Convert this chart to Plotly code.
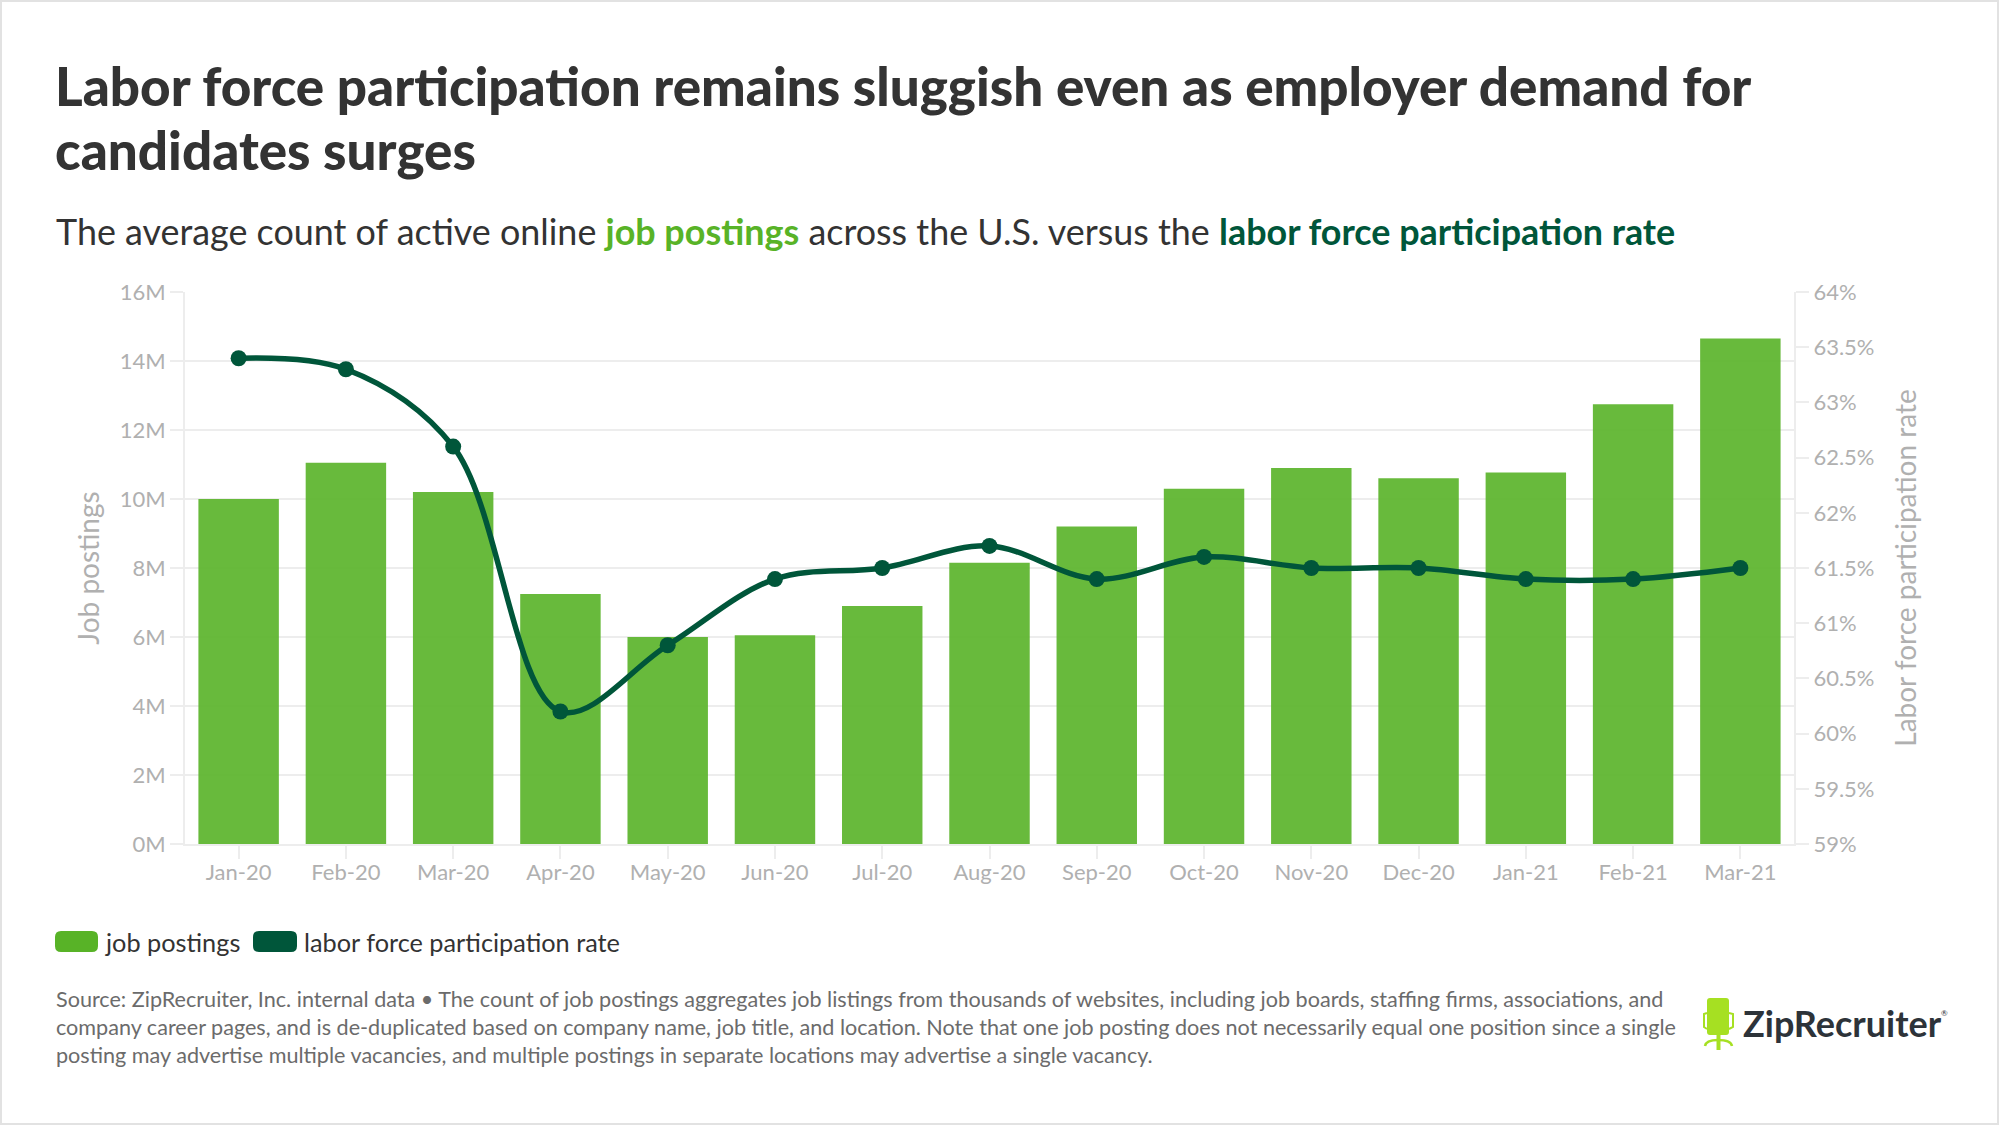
import plotly.graph_objects as go
from plotly.subplots import make_subplots

# Data
months = ['Jan-20', 'Feb-20', 'Mar-20', 'Apr-20', 'May-20', 'Jun-20', 'Jul-20', 'Aug-20',
          'Sep-20', 'Oct-20', 'Nov-20', 'Dec-20', 'Jan-21', 'Feb-21', 'Mar-21']
job_postings = [10.0, 11.05, 10.2, 7.25, 6.0, 6.05, 6.9, 8.15, 9.2, 10.3, 10.9, 10.6, 10.77, 12.75, 14.65]
participation = [63.4, 63.3, 62.6, 60.2, 60.8, 61.4, 61.5, 61.7, 61.4, 61.6, 61.5, 61.5, 61.4, 61.4, 61.5]

left_ticks = [0, 2, 4, 6, 8, 10, 12, 14, 16]
left_labels = ['0M', '2M', '4M', '6M', '8M', '10M', '12M', '14M', '16M']
right_ticks = [59, 59.5, 60, 60.5, 61, 61.5, 62, 62.5, 63, 63.5, 64]
right_labels = ['59%', '59.5%', '60%', '60.5%', '61%', '61.5%', '62%', '62.5%', '63%', '63.5%', '64%']

title_lines = ['Labor force participation remains sluggish even as employer demand for',
               'candidates surges']
source_lines = ['Source: ZipRecruiter, Inc. internal data • The count of job postings aggregates job listings from thousands of websites, including job boards, staffing firms, associations, and',
                'company career pages, and is de-duplicated based on company name, job title, and location. Note that one job posting does not necessarily equal one position since a single',
                'posting may advertise multiple vacancies, and multiple postings in separate locations may advertise a single vacancy.']

GREEN = '#58b327'
DARK = '#00563a'
GREY = '#b0b0b0'
GRID = '#ededed'
FONT = 'Lato'

W, H = 1999, 1125
L, R, T, B = 185, 1794, 292, 844


def px(x):
    return (x - L) / (R - L)


def py(y):
    return (B - y) / (B - T)


def text(x, y, s, size, color, anchor='left', weight=None):
    fig.add_annotation(xref='paper', yref='paper', x=px(x), y=py(y), text=s, showarrow=False,
                       xanchor=anchor, yanchor='middle', align='left', borderpad=0,
                       font=dict(family=FONT, size=size, color=color, weight=weight))


def rect(x0, y0, x1, y1, color, **kw):
    fig.add_shape(type='rect', xref='paper', yref='paper', x0=px(x0), x1=px(x1), y0=py(y0), y1=py(y1),
                  fillcolor=color, line=dict(width=0), **kw)


def pill(x0, y0, x1, y1, r, color):
    # rounded rectangle, in pixels of the page
    pts = (f'M{px(x0 + r)},{py(y0)} L{px(x1 - r)},{py(y0)} Q{px(x1)},{py(y0)} {px(x1)},{py(y0 + r)} '
           f'L{px(x1)},{py(y1 - r)} Q{px(x1)},{py(y1)} {px(x1 - r)},{py(y1)} '
           f'L{px(x0 + r)},{py(y1)} Q{px(x0)},{py(y1)} {px(x0)},{py(y1 - r)} '
           f'L{px(x0)},{py(y0 + r)} Q{px(x0)},{py(y0)} {px(x0 + r)},{py(y0)} Z')
    fig.add_shape(type='path', xref='paper', yref='paper', path=pts, fillcolor=color, line=dict(width=0))


def stroke(path, color, width):
    fig.add_shape(type='path', xref='paper', yref='paper', path=path, line=dict(color=color, width=width))


fig = make_subplots(specs=[[{'secondary_y': True}]])

fig.add_trace(go.Bar(x=months, y=job_postings, name='job postings',
                     marker=dict(color=GREEN, opacity=0.9, line=dict(width=0))), secondary_y=False)
fig.add_trace(go.Scatter(x=months, y=participation, name='labor force participation rate',
                         mode='lines+markers',
                         line=dict(color=DARK, width=5.5, shape='spline', smoothing=1.0),
                         marker=dict(color=DARK, size=16)), secondary_y=True)

fig.update_layout(width=W, height=H, margin=dict(l=L, r=W - R, t=T, b=H - B, autoexpand=False),
                  paper_bgcolor='white', plot_bgcolor='white', showlegend=False, bargap=0.25,
                  font=dict(family=FONT, color=GREY))
fig.update_xaxes(type='category', domain=[0, 1], range=[-0.5, 14.5], showgrid=False, showline=True,
                 linecolor=GRID, linewidth=2, ticks='outside', ticklen=13, tickwidth=2, tickcolor=GRID,
                 tickfont=dict(size=22, color=GREY), tickangle=0, ticklabelstandoff=-5)
fig.update_yaxes(range=[0, 16], tickvals=left_ticks, ticktext=left_labels, showgrid=True, gridcolor=GRID,
                 gridwidth=2, zeroline=False, showline=True, linecolor=GRID, linewidth=2,
                 ticks='outside', ticklen=13, tickwidth=2, tickcolor=GRID,
                 tickfont=dict(size=22, color=GREY),
                 title=dict(text='Job postings', font=dict(size=28, color=GREY), standoff=12),
                 secondary_y=False)
fig.update_yaxes(range=[59, 64], tickvals=right_ticks, ticktext=right_labels, showgrid=False, zeroline=False,
                 showline=True, linecolor=GRID, linewidth=2,
                 ticks='outside', ticklen=13, tickwidth=2, tickcolor=GRID,
                 tickfont=dict(size=22, color=GREY),
                 title=dict(text='Labor force participation rate', font=dict(size=28, color=GREY), standoff=23),
                 secondary_y=True)

# Headline, subtitle
text(54, 85, title_lines[0], 53, '#333333', weight=900)
text(54, 149, title_lines[1], 53, '#333333', weight=900)
text(55, 231,
     f'The average count of active online <b style="color:{GREEN}">job postings</b> across the U.S. versus the '
     f'<b style="color:{DARK}">labor force participation rate</b>', 35.9, '#333333')

# Legend
pill(55, 931, 98, 952, 6, GREEN)
text(104, 942, 'job postings', 25.3, '#333333')
pill(253, 931, 297, 952, 6, DARK)
text(303, 942, 'labor force participation rate', 25.3, '#333333')

# Source note
for y, line in zip([999, 1027, 1055], source_lines):
    text(55, y, line, 21.6, '#6b6b6b')

# Logo
LIME = '#a6e022'
pill(1707, 998, 1729, 1035, 3, LIME)
stroke(f'M{px(1707)},{py(1013)} L{px(1704)},{py(1014)} L{px(1704)},{py(1027)} L{px(1707)},{py(1029)}', LIME, 2)
stroke(f'M{px(1729)},{py(1013)} L{px(1733)},{py(1014)} L{px(1733)},{py(1027)} L{px(1729)},{py(1029)}', LIME, 2)
rect(1716.5, 1035, 1720.5, 1050, LIME)
stroke(f'M{px(1705)},{py(1046)} Q{px(1706)},{py(1040)} {px(1718)},{py(1040)} Q{px(1731)},{py(1040)} {px(1732)},{py(1046)}', LIME, 2.5)
text(1742, 1023, '<b>ZipRecruiter</b>', 36, '#2d3339')
text(1940, 1013, '®', 8, '#2d3339')

# Outer frame
for x0, y0, x1, y1 in [(0, 0, W, 2), (0, 0, 2, H), (0, H - 2, W, H), (W - 2, 0, W, H)]:
    rect(x0, y0, x1, y1, '#e2e2e2')

fig.write_html('out.html', config=dict(displayModeBar=False), post_script="document.body.style.margin='0';")
